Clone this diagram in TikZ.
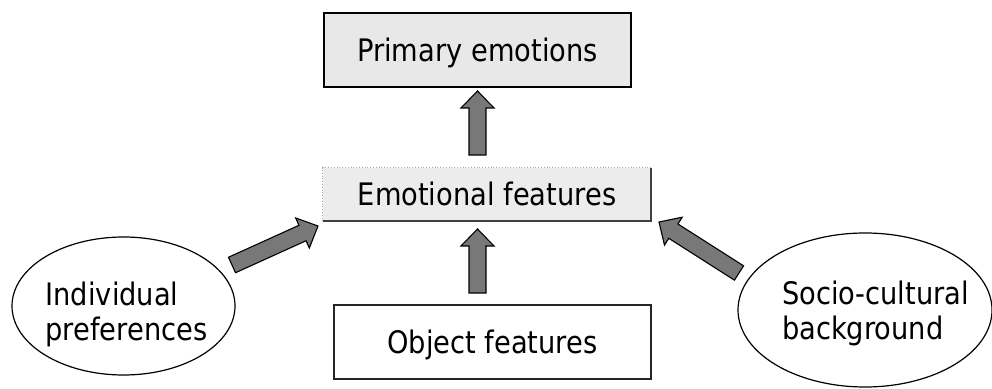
\documentclass[tikz,border=0pt]{standalone}
\usepackage{fontspec}
\setmainfont{DejaVu Sans}[FakeStretch=0.88]
\usetikzlibrary{calc,shapes.geometric}
\definecolor{arrowgray}{RGB}{120,120,120}
\definecolor{boxgray}{RGB}{232,232,232}
\definecolor{emogray}{RGB}{236,236,236}
\tikzset{
  lbl/.style={font=\fontsize{31}{35}\selectfont, text height=22.6pt, text depth=0pt, inner sep=0pt},
  primbox/.style={lbl, draw=black, line width=1.6pt, fill=boxgray, minimum width=307pt, minimum height=74pt},
  objbox/.style={lbl, draw=black!85, line width=2pt, fill=white, minimum width=317pt, minimum height=74pt},
  emobox/.style={lbl, fill=emogray, minimum width=328pt, minimum height=53pt},
  ellbox/.style={ellipse, draw=black, line width=1.2pt, fill=white, inner sep=0pt},
  elltext/.style={font=\fontsize{31}{35}\selectfont, align=left, inner sep=0pt},
  barrowstyle/.style={draw=black, line width=1.1pt, fill=arrowgray, line join=miter}
}
\newcommand\blockarrow[2]{%
  \coordinate (ba-h) at ($(#2)!17pt!(#1)$);
  \draw[barrowstyle] ($(#1)!8.5pt!90:(#2)$) -- ($(ba-h)!8.5pt!90:(#2)$) -- ($(ba-h)!16.5pt!90:(#2)$) -- (#2)
    -- ($(ba-h)!16.5pt!-90:(#2)$) -- ($(ba-h)!8.5pt!-90:(#2)$) -- ($(#1)!8.5pt!-90:(#2)$) -- cycle;%
}
\begin{document}
\begin{tikzpicture}[x=1pt,y=1pt]
\useasboundingbox (0,0) rectangle (992,388);
% nodes
\node[primbox] (prim) at (477.5,338) {Primary emotions};
\node[emobox] (emo) at (487,193.5) {Emotional features};
\draw[gray!70, dotted, line width=0.8pt] (emo.south west) -- (emo.north west) -- (emo.north east);
\draw[black!75, line width=1.5pt] (emo.north east) -- (emo.south east) -- (emo.south west);
\node[objbox] (obj) at (492.5,46) {Object features};
\node[ellbox, minimum width=223pt, minimum height=138pt] (indiv) at (123.5,82) {};
\node[elltext] (indivt) at (126.5,74) {Individual\\preferences};
\node[ellbox, minimum width=254pt, minimum height=154pt] (socio) at (865,78) {};
\node[elltext] (sociot) at (875.5,75) {Socio-cultural\\background};
% arrow end points
\coordinate (a1s) at (477.5,233);
\coordinate (a1e) at (477.5,297);
\coordinate (a2s) at (477.5,95);
\coordinate (a2e) at (477.5,159);
\coordinate (a3s) at (232,123);
\coordinate (a3e) at (318,162);
\coordinate (a4s) at (739,115);
\coordinate (a4e) at (659,166);
\blockarrow{a1s}{a1e}
\blockarrow{a2s}{a2e}
\blockarrow{a3s}{a3e}
\blockarrow{a4s}{a4e}
\end{tikzpicture}
\end{document}
